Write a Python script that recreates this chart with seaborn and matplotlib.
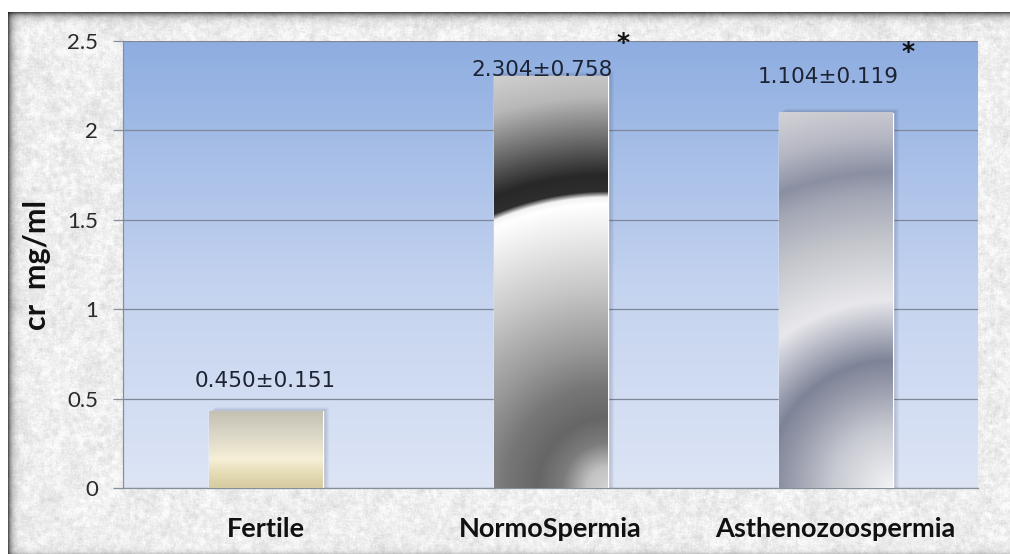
import numpy as np
import matplotlib
matplotlib.use("Agg")
import matplotlib.pyplot as plt
import matplotlib.patches as mpatches
from matplotlib.colors import to_rgb
import pandas as pd
import seaborn as sns

# ---------------- data ----------------
categories = ["Fertile", "NormoSpermia", "Asthenozoospermia"]
values = [0.43, 2.304, 2.10]
value_labels = ["0.450\u00b10.151", "2.304\u00b10.758", "1.104\u00b10.119"]
stars = ["", "*", "*"]
yticks = [0, 0.5, 1, 1.5, 2, 2.5]
ytick_labels = ["0", "0.5", "1", "1.5", "2", "2.5"]
ylabel = "cr  mg/ml"

# ---------------- layout (not data) ----------------
label_dx = [0.0, -0.03, -0.025]
label_dy = [0.17, 0.035, 0.20]
star_pos = [None, (1.254, 2.49), (2.254, 2.44)]

sns.set_theme(style="white")
plt.rcParams["font.family"] = ["Lato", "DejaVu Sans"]

W, H = 1010, 554
fig = plt.figure(figsize=(W / 100, H / 100), dpi=100)

# ---------- textured (granite-like) background ----------
rng = np.random.default_rng(11)


def blur(a, k):
    kern = np.ones(k) / k
    a = np.apply_along_axis(lambda m: np.convolve(m, kern, mode="same"), 0, a)
    a = np.apply_along_axis(lambda m: np.convolve(m, kern, mode="same"), 1, a)
    return a


fine = blur(rng.standard_normal((H, W)), 2)
mid = blur(rng.standard_normal((H, W)), 5)
coarse = blur(rng.standard_normal((H, W)), 15)
fine /= fine.std(); mid /= mid.std(); coarse /= coarse.std()
g = 0.935 + 0.013 * fine + 0.018 * mid + 0.011 * coarse
g = np.clip(g, 0.80, 0.985)
rows = np.arange(H)[:, None]
cols = np.arange(W)[None, :]
shade = np.ones((H, W))
shade *= 1 - 0.65 * np.exp(-np.clip(rows - 12, 0, None) / 3.5) * (rows >= 12)
shade *= 1 - 0.65 * np.exp(-np.clip(cols - 8, 0, None) / 3.5) * (cols >= 8)
shade *= 1 - 0.15 * np.exp(-np.clip(H - 1 - rows, 0, None) / 2.5)
g = g * shade
g[rows[:, 0] < 12, :] = 1.0
g[:, cols[0] < 8] = 1.0
bg = np.dstack([g, g, g])
fig.figimage(bg, xo=0, yo=0, origin="upper", zorder=-10)

# ---------- plot axes ----------
ax = fig.add_axes([123 / W, 1 - 488 / H, 855 / W, 447 / H])
ax.patch.set_alpha(0)
df = pd.DataFrame({"category": categories, "value": values})
sns.barplot(data=df, x="category", y="value", ax=ax, width=0.4,
            color="#bbbbbb", saturation=1, errorbar=None, zorder=3)
ax.set_xlim(-0.5, 2.5)
ax.set_ylim(0, 2.5)

# plot-area gradient
grad_stops = [(0.0, "#dde5f5"), (0.45, "#c4d3ef"), (1.0, "#8eade1")]
n = 300
t = np.linspace(0, 1, n)
grad = np.zeros((n, 1, 3))
for c in range(3):
    grad[:, 0, c] = np.interp(t, [s for s, _ in grad_stops],
                              [to_rgb(col)[c] for _, col in grad_stops])
ax.imshow(grad, extent=(-0.5, 2.5, 0, 2.5), origin="lower", aspect="auto",
          zorder=-1, interpolation="bilinear")

ax.set_axisbelow(True)
ax.yaxis.grid(True, color="#7e8697", lw=0.9)
ax.xaxis.grid(False)
for s in ["top", "right"]:
    ax.spines[s].set_visible(False)
for s in ["left", "bottom"]:
    ax.spines[s].set_color("#868d9b")
    ax.spines[s].set_linewidth(0.9)

ax.set_yticks(yticks, ytick_labels)
ax.tick_params(axis="y", left=True, length=7, width=0.9, color="#868d9b",
               pad=11, labelsize=16, labelcolor="#2a2a2a")
ax.set_xticks(range(len(categories)), categories)
ax.tick_params(axis="x", bottom=False, length=0, pad=21, labelsize=19.5,
               labelcolor="#111111")
for lbl in ax.get_xticklabels():
    lbl.set_fontweight("bold")
ax.set_xlabel("")
ax.set_ylabel(ylabel, fontsize=22, fontweight="bold", color="#111111")
ax.yaxis.set_label_coords(-0.084, 0.5)

# ---------- bar gradient fills ----------
fig.canvas.draw()


def ramp(x, stops):
    pos = [p for p, _ in stops]
    out = np.zeros(x.shape + (3,))
    for c in range(3):
        out[..., c] = np.interp(x, pos, [to_rgb(col)[c] for _, col in stops])
    return out


normo_stops = [(0.00, "#d4d4d4"), (0.05, "#c2c2c2"), (0.11, "#7c7c7c"),
               (0.17, "#666666"), (0.25, "#777777"), (0.34, "#989898"),
               (0.49, "#c8c8c8"), (0.62, "#ececec"), (0.69, "#ffffff"),
               (0.706, "#f2f2f2"), (0.72, "#2e2e2e"), (0.76, "#282828"),
               (0.85, "#6e6e6e"), (0.95, "#b8b8b8"), (1.08, "#dcdcdc")]
asth_stops = [(0.00, "#f4f4f6"), (0.16, "#c8cad2"), (0.28, "#9498a8"),
              (0.34, "#7e8498"), (0.42, "#b4b7c3"), (0.50, "#e8e8ec"),
              (0.66, "#c4c6cc"), (0.78, "#a4a8b6"), (0.84, "#8a8fa2"),
              (0.93, "#b4b6c2"), (1.0, "#c8c8d0"), (1.08, "#dadadd")]
fert_stops = [(0.0, "#d6cba0"), (0.2, "#e6dcb6"), (0.38, "#f6f0d8"),
              (0.5, "#ebe5cf"), (0.75, "#d6d3c4"), (1.0, "#c4c1b3")]

for i, patch in enumerate(ax.patches[:len(categories)]):
    x0, w, h = patch.get_x(), patch.get_width(), patch.get_height()
    p0 = ax.transData.transform((x0, 0))
    p1 = ax.transData.transform((x0 + w, h))
    wp = max(int(round(p1[0] - p0[0])), 2)
    hp = max(int(round(p1[1] - p0[1])), 2)
    # soft shadow to the right
    dxp = 1.0 / (p1[0] - p0[0]) * w
    for k in range(1, 7):
        ax.add_patch(mpatches.Rectangle((x0 + k * dxp, 0), w, h + k * 0.0035,
                                        facecolor="#2a3350", alpha=0.045,
                                        edgecolor="none", zorder=2.5))
    xx, yy = np.meshgrid(np.arange(wp) + 0.5, np.arange(hp) + 0.5)
    if i == 0:
        img = ramp(yy / hp, fert_stops)
    else:
        r = np.hypot(wp - xx, yy) / hp
        img = ramp(r, normo_stops if i == 1 else asth_stops)
    ax.imshow(img, extent=(x0, x0 + w, 0, h), origin="lower", aspect="auto",
              zorder=3.2, interpolation="bilinear")

ax.set_xlim(-0.5, 2.5)
ax.set_ylim(0, 2.5)

# ---------- value labels ----------
for i, (v, lab) in enumerate(zip(values, value_labels)):
    ax.text(i + label_dx[i], v + label_dy[i], lab, ha="center", va="center",
            fontsize=15.5, family="DejaVu Sans", color="#1c2333", zorder=5)
    if stars[i]:
        sx, sy = star_pos[i]
        ax.text(sx, sy, stars[i], ha="center", va="center", fontsize=18,
                fontweight="bold", family="DejaVu Sans", color="#111111",
                zorder=5, clip_on=False)

fig.savefig("out.png", dpi=100)
